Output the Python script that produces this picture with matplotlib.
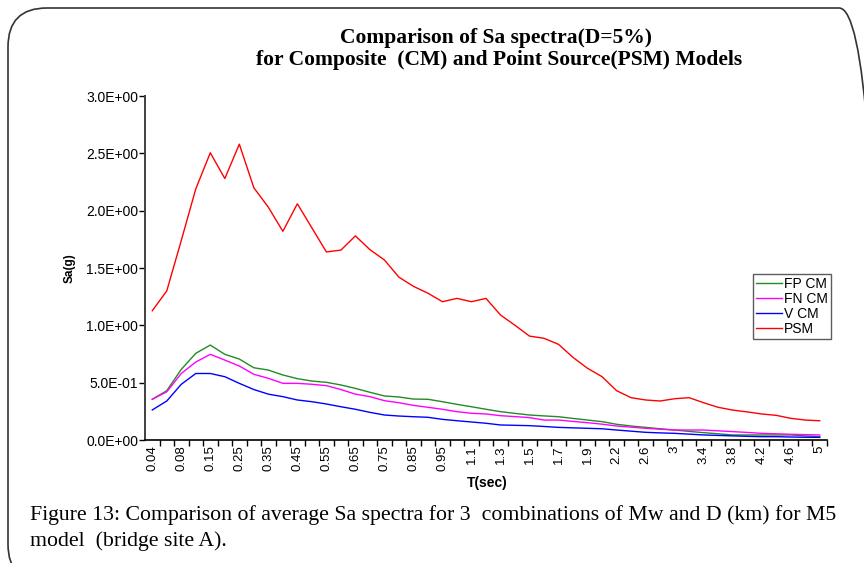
import numpy as np
import matplotlib
matplotlib.use("Agg")
import matplotlib.pyplot as plt
from matplotlib.patches import FancyBboxPatch
from matplotlib.ticker import FuncFormatter, FixedLocator

# Periods T (sec), one category per value
periods = ["0.04", "0.06", "0.08", "0.1", "0.15", "0.2", "0.25", "0.3", "0.35", "0.4",
           "0.45", "0.5", "0.55", "0.6", "0.65", "0.7", "0.75", "0.8", "0.85", "0.9",
           "0.95", "1", "1.1", "1.2", "1.3", "1.4", "1.5", "1.6", "1.7", "1.8",
           "1.9", "2", "2.2", "2.4", "2.6", "2.8", "3", "3.2", "3.4", "3.6",
           "3.8", "4", "4.2", "4.4", "4.6", "4.8", "5"]

# Sa(g) spectra
fp_cm = [0.355, 0.43, 0.616, 0.756, 0.828, 0.747, 0.706, 0.63, 0.61, 0.567,
         0.535, 0.514, 0.503, 0.48, 0.45, 0.416, 0.384, 0.375, 0.357, 0.355,
         0.334, 0.311, 0.29, 0.268, 0.247, 0.232, 0.218, 0.21, 0.203, 0.188,
         0.174, 0.16, 0.137, 0.122, 0.11, 0.098, 0.087, 0.075, 0.064, 0.054,
         0.044, 0.044, 0.044, 0.044, 0.044, 0.036, 0.029]
fn_cm = [0.355, 0.42, 0.58, 0.68, 0.747, 0.697, 0.645, 0.573, 0.538, 0.494,
         0.494, 0.486, 0.474, 0.44, 0.40, 0.378, 0.343, 0.325, 0.302, 0.285,
         0.268, 0.247, 0.233, 0.227, 0.212, 0.204, 0.195, 0.174, 0.174, 0.162,
         0.151, 0.138, 0.122, 0.112, 0.102, 0.094, 0.087, 0.087, 0.087, 0.08,
         0.073, 0.066, 0.058, 0.054, 0.05, 0.047, 0.044]
v_cm = [0.262, 0.34, 0.486, 0.58, 0.58, 0.552, 0.494, 0.44, 0.40, 0.378,
        0.349, 0.334, 0.314, 0.29, 0.268, 0.241, 0.218, 0.209, 0.203, 0.198,
        0.18, 0.168, 0.157, 0.146, 0.131, 0.128, 0.125, 0.118, 0.11, 0.106,
        0.102, 0.098, 0.087, 0.077, 0.067, 0.062, 0.058, 0.051, 0.044, 0.04,
        0.036, 0.032, 0.029, 0.029, 0.026, 0.024, 0.023]
psm = [1.127, 1.30, 1.74, 2.19, 2.505, 2.28, 2.58, 2.20, 2.03, 1.82,
       2.06, 1.85, 1.64, 1.656, 1.78, 1.66, 1.57, 1.42, 1.34, 1.28,
       1.206, 1.235, 1.206, 1.235, 1.09, 1.0, 0.906, 0.887, 0.834, 0.72,
       0.625, 0.552, 0.43, 0.369, 0.349, 0.34, 0.36, 0.369, 0.325, 0.285,
       0.261, 0.245, 0.227, 0.215, 0.189, 0.174, 0.168]

x = np.arange(len(periods))

W, H = 864, 563
fig = plt.figure(figsize=(W / 100, H / 100), dpi=100)

# rounded frame around the figure
frame = FancyBboxPatch((8 / W, -20 / H), 870 / W, (555 + 20) / H,
                       boxstyle="round,pad=0,rounding_size=0.045",
                       transform=fig.transFigure, fill=False,
                       edgecolor="#333333", lw=1.2, mutation_aspect=W / H)
fig.patches.append(frame)

ax = fig.add_axes([145 / W, 1 - 440 / H, 682 / W, 344 / H])

ax.plot(x, fp_cm, color="#228b22", lw=1.0, label="FP CM")
ax.plot(x, fn_cm, color="#ff00ff", lw=1.0, label="FN CM")
ax.plot(x, v_cm, color="#0000ff", lw=1.0, label="V CM")
ax.plot(x, psm, color="#ff0000", lw=1.0, label="PSM")

ax.set_xlim(-0.5, len(periods) - 0.5)
ax.set_ylim(0, 3.0)

# ticks between categories, labels on every other category
ax.xaxis.set_major_locator(FixedLocator(np.arange(0.5, len(periods), 1.0)))
ax.xaxis.set_major_formatter(FuncFormatter(lambda v, p: ""))
ax.xaxis.set_minor_locator(FixedLocator(x[::2]))
ax.set_xticklabels([periods[i] for i in x[::2]], minor=True)
ax.tick_params(axis="x", which="minor", length=0, pad=4, labelrotation=90,
               labelsize=9.5)
ax.tick_params(axis="x", which="major", length=4, width=1.0, direction="out")
for lab in ax.get_xticklabels(minor=True):
    lab.set_fontfamily("Liberation Sans")
    lab.set_va("top")

ax.set_yticks(np.arange(0, 3.01, 0.5))
ax.yaxis.set_major_formatter(FuncFormatter(lambda v, p: "{:.1E}".format(v)))
ax.tick_params(axis="y", length=4, width=1.0, direction="out", labelsize=10, pad=1)
for lab in ax.get_yticklabels():
    lab.set_fontfamily("Liberation Sans")

for s in ["top", "right"]:
    ax.spines[s].set_visible(False)
ax.spines["left"].set_color("#404040")
ax.spines["left"].set_linewidth(1.4)
ax.spines["bottom"].set_linewidth(1.2)

fig.text(70 / W, 1 - 268 / H, "Sa(g)", rotation=90, ha="center", va="center",
         fontsize=8.5, fontweight="bold", family="Liberation Sans")
fig.text(487 / W, 1 - 483 / H, "T(sec)", ha="center", va="center",
         fontsize=10, fontweight="bold", family="Liberation Sans")

fig.text(496 / W, 1 - 38 / H, "Comparison of Sa spectra(D=5%)", ha="center",
         va="center", fontsize=15.5, fontweight="bold", family="Liberation Serif")
fig.text(499 / W, 1 - 60 / H, "for Composite  (CM) and Point Source(PSM) Models",
         ha="center", va="center", fontsize=15.5, fontweight="bold",
         family="Liberation Serif")

leg = ax.legend(loc="upper left", bbox_to_anchor=(753 / W, 1 - 274 / H),
                bbox_transform=fig.transFigure, frameon=True, fancybox=False,
                edgecolor="#333333", handlelength=1.9, handletextpad=0.15,
                borderpad=0.2, labelspacing=0.08, borderaxespad=0,
                prop={"family": "Liberation Sans", "size": 10})
leg.get_frame().set_linewidth(1.0)

fig.text(30 / W, 1 - 515 / H,
         "Figure 13: Comparison of average Sa spectra for 3  combinations of Mw and D (km) for M5",
         ha="left", va="center", fontsize=15.7, family="Liberation Serif")
fig.text(30 / W, 1 - 541 / H, "model  (bridge site A).",
         ha="left", va="center", fontsize=15.7, family="Liberation Serif")

fig.savefig("out.png", dpi=100)
